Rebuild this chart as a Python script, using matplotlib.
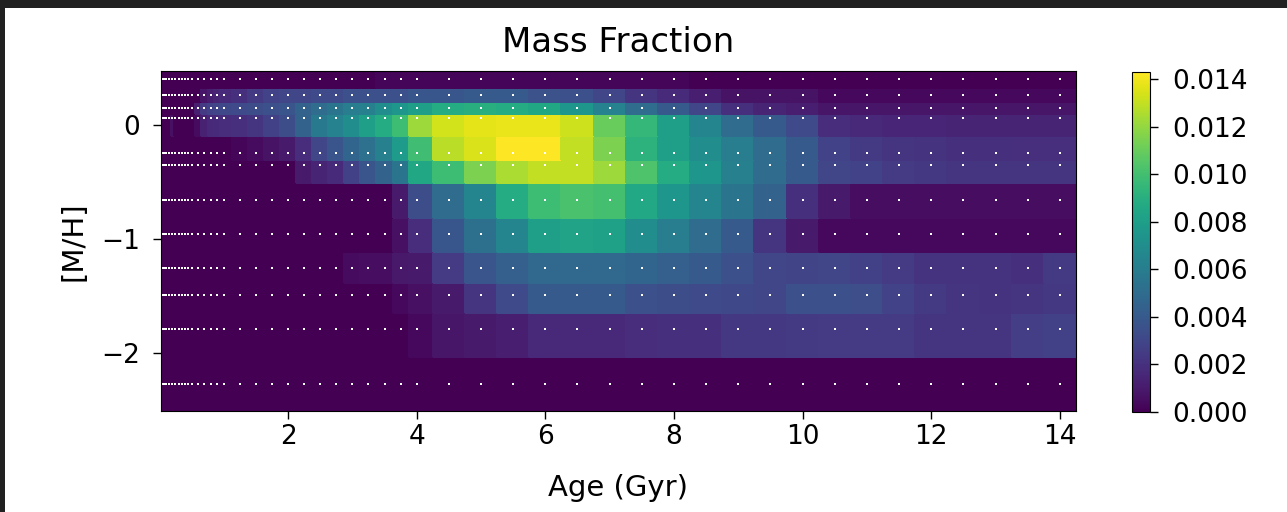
import numpy as np
import matplotlib
matplotlib.use("Agg")
import matplotlib.pyplot as plt
from matplotlib.patches import Rectangle

# SSP template grid: ages (Gyr) and metallicities [M/H]
ages = [0.03, 0.04, 0.05, 0.06, 0.07, 0.08, 0.09, 0.10, 0.15, 0.20, 0.25,
        0.30, 0.35, 0.40, 0.45, 0.50, 0.60, 0.70, 0.80, 0.90, 1.00, 1.25,
        1.50, 1.75, 2.00, 2.25, 2.50, 2.75, 3.00, 3.25, 3.50, 3.75, 4.00,
        4.50, 5.00, 5.50, 6.00, 6.50, 7.00, 7.50, 8.00, 8.50, 9.00, 9.50,
        10.0, 10.5, 11.0, 11.5, 12.0, 12.5, 13.0, 13.5, 14.0]
metals = [-2.27, -1.79, -1.49, -1.26, -0.96, -0.66, -0.35, -0.25, 0.06, 0.15, 0.26, 0.40]

# mass fractions (units of 1e-3), one row per metallicity, one value per age
z16 = [0.0] * 16
w_m227 = [0.0] * 53
w_m179 = [0.0] * 32 + [0.3,
          0.8, 1.0, 1.2, 1.6, 1.6, 1.6, 1.8, 2.0, 2.0, 2.3,
          2.3, 2.4, 2.5, 2.5, 2.5, 2.2, 2.2, 2.2, 2.6, 2.7]
w_m149 = [0.0] * 31 + [0.3, 0.6,
          1.0, 2.2, 3.2, 4.0, 4.0, 4.0, 3.5, 3.3, 3.2, 3.1,
          3.0, 3.5, 3.5, 3.4, 2.8, 2.4, 2.2, 2.1, 2.2, 2.3]
w_m126 = [0.0] * 28 + [0.4, 0.5, 0.5, 0.9, 1.0,
          2.5, 3.7, 4.3, 4.8, 4.8, 4.8, 4.6, 4.3, 4.0, 3.5,
          3.0, 2.9, 3.0, 2.7, 2.5, 2.1, 2.1, 2.1, 2.0, 2.4]
w_m096 = [0.0] * 31 + [0.6, 1.8,
          3.8, 5.2, 6.5, 8.0, 8.3, 8.2, 7.0, 6.0, 5.0, 4.0,
          2.2, 1.0, 0.3, 0.3, 0.3, 0.3, 0.3, 0.3, 0.3, 0.3]
w_m066 = [0.0] * 31 + [1.0, 3.3,
          5.0, 6.5, 8.8, 9.8, 10.2, 10.0, 8.6, 7.5, 6.5, 5.5,
          4.5, 2.0, 1.0, 0.5, 0.5, 0.5, 0.5, 0.5, 0.5, 0.5]
w_m035 = [0.0] * 25 + [1.0, 1.4, 1.7, 2.7, 3.7, 4.5, 5.5, 8.5,
          9.8, 11.5, 12.5, 13.0, 13.0, 12.2, 10.3, 8.8, 7.5, 6.2,
          5.0, 4.0, 3.0, 2.8, 2.5, 2.3, 2.2, 2.2, 2.2, 2.2]
w_m025 = [0.0] * 21 + [0.2, 0.4, 0.7, 1.0, 1.8, 3.0, 3.7, 4.6, 5.3, 6.2, 7.8, 9.9,
          12.8, 13.5, 14.3, 14.3, 13.0, 11.5, 9.2, 8.0, 7.0, 6.0,
          5.0, 4.0, 2.8, 2.4, 2.2, 2.1, 2.0, 2.0, 1.9, 1.9]
w_p006 = [0.0] * 9 + [0.6] + [0.0] * 6 + [0.4, 1.3, 1.6, 1.7, 1.8,
          1.9, 2.2, 2.7, 3.3, 4.5, 5.8, 6.3, 7.0, 8.0, 8.8, 9.8, 12.2,
          13.3, 13.7, 13.8, 13.8, 13.2, 11.0, 9.5, 8.0, 6.5, 5.0,
          4.0, 3.2, 1.8, 1.6, 1.5, 1.5, 1.4, 1.4, 1.4, 1.4]
w_p015 = z16 + [1.2, 2.5, 2.8, 3.0, 3.1,
          3.2, 3.3, 3.5, 3.7, 4.5, 5.0, 5.5, 6.0, 6.2, 7.0, 7.5, 8.0,
          8.8, 9.0, 8.8, 8.5, 7.5, 6.3, 5.0, 4.0, 3.0, 2.0,
          1.4, 1.2, 0.8, 0.8, 0.8, 0.8, 0.8, 0.8, 0.8, 0.8]
w_p026 = z16 + [0.0, 0.8, 1.2, 1.4, 1.7,
          2.0, 2.4, 2.8, 3.0, 3.0, 3.2, 3.2, 3.5, 3.5, 3.5, 3.5, 3.8,
          3.8, 4.0, 4.0, 3.6, 3.5, 3.0, 2.2, 1.7, 1.2, 0.7,
          0.7, 0.7, 0.3, 0.3, 0.3, 0.3, 0.3, 0.3, 0.3, 0.3]
w_p040 = [0.0] * 30 + [0.2] * 11 + [0.0] * 12

weights = np.array([w_m227, w_m179, w_m149, w_m126, w_m096, w_m066,
                    w_m035, w_m025, w_p006, w_p015, w_p026, w_p040]) * 1e-3

x = np.array(ages)
y = np.array(metals)
# cell borders halfway between grid centres, extrapolated at the ends
xb = np.hstack([1.5*x[0] - x[1]/2, (x[1:] + x[:-1])/2, 1.5*x[-1] - x[-2]/2])
yb = np.hstack([1.5*y[0] - y[1]/2, (y[1:] + y[:-1])/2, 1.5*y[-1] - y[-2]/2])

plt.rcParams['font.size'] = 19

fig = plt.figure(figsize=(12.87, 5.12), dpi=100)
# dark frame along the top and left edges
for rect in [(0, 504/512, 1, 8/512), (0, 0, 5/1287, 1)]:
    fig.patches.append(Rectangle(rect[:2], rect[2], rect[3], transform=fig.transFigure,
                                 facecolor='#212121', edgecolor='none', zorder=-1))

ax = fig.add_axes([161/1287, 101/512, 915/1287, 340/512])
pc = ax.pcolormesh(xb, yb, weights, cmap='viridis', edgecolors='face')
xg, yg = np.meshgrid(x, y)
ax.plot(xg.ravel(), yg.ravel(), 's', color='white', markersize=1.7, mew=0)
ax.set_xlim(xb[0], xb[-1])
ax.set_ylim(yb[0], yb[-1])
ax.set_xticks([2, 4, 6, 8, 10, 12, 14])
ax.set_yticks([0, -1, -2])
ax.set_yticklabels(['0', '\u22121', '\u22122'])
ax.tick_params(length=6, width=1)
ax.tick_params(axis='y', pad=9)
ax.set_xlabel('Age (Gyr)', fontsize=21, labelpad=17)
ax.set_ylabel('[M/H]', fontsize=21, labelpad=10)
ax.set_title('Mass Fraction', fontsize=24.5, pad=14)

cax = fig.add_axes([1132/1287, 100/512, 18/1287, 340/512])
cb = fig.colorbar(pc, cax=cax)
cb.set_ticks([0.000, 0.002, 0.004, 0.006, 0.008, 0.010, 0.012, 0.014])
cb.set_ticklabels(['0.000', '0.002', '0.004', '0.006', '0.008', '0.010', '0.012', '0.014'])
cax.tick_params(length=6, width=1, pad=10)

fig.savefig('out.png', dpi=100)
